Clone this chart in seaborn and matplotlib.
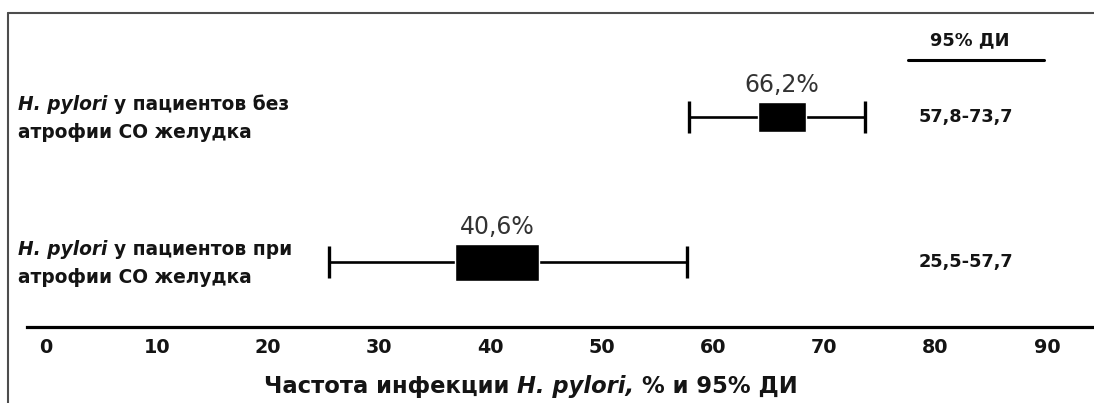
import numpy as np
import pandas as pd
import seaborn as sns
import matplotlib.pyplot as plt
from matplotlib.lines import Line2D

# values
row_italic = ['H. pylori', 'H. pylori']
row_line1 = ['у пациентов без', 'у пациентов при']
row_line2 = ['атрофии СО желудка', 'атрофии СО желудка']
estimates = [66.2, 40.6]
ci_low = [57.8, 25.5]
ci_high = [73.7, 57.7]
est_labels = ['66,2%', '40,6%']
ci_labels = ['57,8-73,7', '25,5-57,7']
x_ticks = [0, 10, 20, 30, 40, 50, 60, 70, 80, 90]
ci_header = '95% ДИ'

df = pd.DataFrame({'est': estimates, 'lo': ci_low, 'hi': ci_high,
                   'label': est_labels, 'ci': ci_labels})
df['row'] = [1, 0]

# box sizes (style only)
box_w = [4.3, 7.5]
box_h = [0.21, 0.255]

W, H = 1094, 403
TEXT = '#141414'


def fx(px):
    return px / W


def fy(py):
    return 1 - py / H


sns.set_theme(style='white')
plt.rcParams['font.family'] = ['DejaVu Sans']

fig = plt.figure(figsize=(W / 100, H / 100), dpi=100)
ax = fig.add_axes([fx(27), fy(327), 1 - fx(27), (327 - 13) / H])
ax.set_xlim(-1.66, 94.24)
ax.set_ylim(-0.448, 1.717)

# whiskers with caps
ax.errorbar(df['est'], df['row'], xerr=[df['est'] - df['lo'], df['hi'] - df['est']],
            fmt='none', ecolor='black', elinewidth=1.9, capsize=11.5, capthick=2.4, zorder=2)
# boxes
ax.barh(df['row'], box_w, left=df['est'] - np.array(box_w) / 2, height=box_h,
        color='black', zorder=3)

for i, r in df.iterrows():
    ax.annotate(r['label'], (r['est'], r['row'] + box_h[i] / 2), xytext=(0, 7),
                textcoords='offset points', ha='center', va='baseline',
                fontsize=17, color='#333333')

ax.set_xticks(x_ticks)
ax.set_xticklabels([str(t) for t in x_ticks], fontsize=13.8, fontweight='bold', color=TEXT)
ax.tick_params(axis='x', length=0, pad=8)
ax.set_yticks([])
sns.despine(ax=ax, left=True, top=True, right=True)
ax.spines['bottom'].set_linewidth(2.3)
ax.spines['bottom'].set_color('black')

renderer = fig.canvas.get_renderer()


def text_width(t):
    return t.get_window_extent(renderer).width


def rich_line(x_px, y_px, pieces, size, ha='left', gap_scale=1.0):
    # pieces: list of (text, fontstyle); a space goes between pieces
    probe = fig.text(0, 0, 'x x', fontsize=size, fontweight='bold')
    probe2 = fig.text(0, 0, 'xx', fontsize=size, fontweight='bold')
    gap = (text_width(probe) - text_width(probe2)) * gap_scale
    probe.remove()
    probe2.remove()
    placed = []
    x = 0
    for s, style in pieces:
        t = fig.text(0, fy(y_px), s, fontsize=size, fontweight='bold', fontstyle=style,
                     va='baseline', ha='left', color=TEXT)
        placed.append((t, x))
        x += text_width(t) + gap
    total = x - gap
    start = x_px - total / 2 if ha == 'center' else x_px
    for t, off in placed:
        t.set_x(fx(start + off))


# row labels on the left
row_px = [117, 262]
for i in range(len(df)):
    rich_line(18, row_px[i] - 7, [(row_italic[i], 'italic'), (row_line1[i], 'normal')], 13.4)
    rich_line(18, row_px[i] + 21, [(row_line2[i], 'normal')], 13.4)

# confidence interval column
for i in range(len(df)):
    fig.text(fx(966), fy(row_px[i]), df['ci'][i], fontsize=12.8, fontweight='bold',
             color=TEXT, ha='center', va='center')
fig.text(fx(970), fy(40), ci_header, fontsize=12.8, fontweight='bold', color=TEXT,
         ha='center', va='center')
fig.add_artist(Line2D([fx(908), fx(1044)], [fy(60), fy(60)], color='black', lw=2.2))

# x axis title
rich_line(531, 393, [('Частота инфекции', 'normal'), ('H. pylori,', 'italic'),
                     ('% и 95% ДИ', 'normal')], 16.3, ha='center')

# frame of the picture
fig.add_artist(Line2D([fx(8), 1], [fy(13), fy(13)], color='#4d4d4d', lw=1.5))
fig.add_artist(Line2D([fx(8), fx(8)], [fy(13), 0], color='#4d4d4d', lw=1.5))

fig.savefig('out.png', dpi=100)
